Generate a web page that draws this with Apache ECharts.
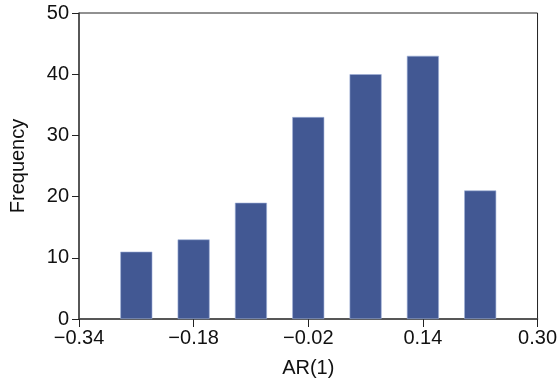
<!DOCTYPE html>
<html>
<head>
<meta charset="utf-8">
<script src="https://cdn.jsdelivr.net/npm/echarts@6/dist/echarts.min.js"></script>
<style>html,body{margin:0;padding:0;background:#fff}#c{width:560px;height:384px}</style>
</head>
<body>
<div id="c"></div>
<script>
const binCenters = [-0.26, -0.18, -0.10, -0.02, 0.06, 0.14, 0.22];
const frequencies = [11, 13, 19, 33, 40, 43, 21];
const xTickValues = [-0.34, -0.18, -0.02, 0.14, 0.30];
const xTickLabels = ['\u22120.34', '\u22120.18', '\u22120.02', '0.14', '0.30'];
const yTickValues = [0, 10, 20, 30, 40, 50];

const chart = echarts.init(document.getElementById('c'), null, {renderer: 'canvas'});
const font = "'Liberation Sans', Arial, sans-serif";
chart.setOption({
  animation: false,
  grid: {left: 77, right: 22, top: 13, bottom: 65, show: true, borderColor: '#222', borderWidth: 1, backgroundColor: 'transparent'},
  xAxis: {
    type: 'value', min: -0.34, max: 0.30,
    name: 'AR(1)', nameLocation: 'middle', nameGap: 49,
    nameTextStyle: {fontFamily: font, fontSize: 20, color: '#111', verticalAlign: 'middle'},
    axisLine: {show: true, onZero: false, lineStyle: {color: '#444', width: 1.5}},
    axisTick: {show: true, length: 8, customValues: xTickValues, lineStyle: {color: '#222', width: 1}},
    axisLabel: {customValues: xTickValues, margin: 9, fontFamily: font, fontSize: 20, color: '#111',
      formatter: v => { const i = xTickValues.findIndex(t => Math.abs(t - v) < 1e-9); return i >= 0 ? xTickLabels[i] : ''; }},
    splitLine: {show: false}
  },
  yAxis: {
    type: 'value', min: 0, max: 50, interval: 10,
    name: 'Frequency', nameLocation: 'middle', nameGap: 61,
    nameTextStyle: {fontFamily: font, fontSize: 20, color: '#111', verticalAlign: 'middle'},
    axisLine: {show: true, onZero: false, lineStyle: {color: '#444', width: 1.5}},
    axisTick: {show: true, length: 7, lineStyle: {color: '#222', width: 1}},
    axisLabel: {margin: 10, fontFamily: font, fontSize: 20, color: '#111'},
    splitLine: {show: false}
  },
  series: [{
    type: 'bar',
    data: binCenters.map((x, i) => [x, frequencies[i]]),
    barWidth: 32,
    itemStyle: {color: '#425893', borderColor: '#9fb0d8', borderWidth: 0.6}
  }]
});
</script>
</body>
</html>
